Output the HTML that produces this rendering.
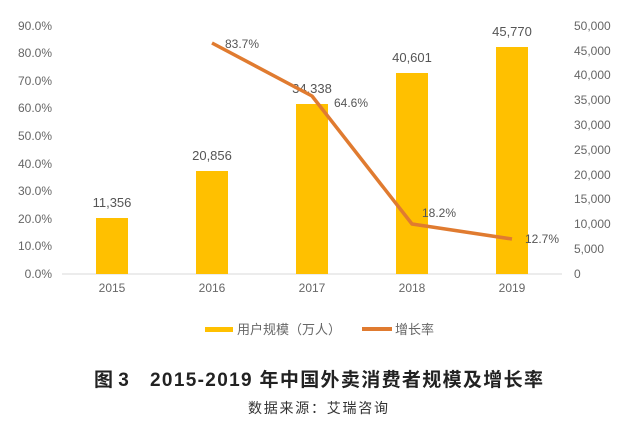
<!DOCTYPE html>
<html><head><meta charset="utf-8"><style>
body{margin:0;background:#fff;width:618px;height:423px;overflow:hidden}
svg text{font-family:"Liberation Sans","Noto Sans CJK SC",sans-serif}
</style></head><body>
<svg width="618" height="423" xmlns="http://www.w3.org/2000/svg">
<g font-size="12" fill="#666" text-anchor="end">
<text x="52" y="278">0.0%</text><text x="52" y="250">10.0%</text><text x="52" y="223">20.0%</text><text x="52" y="195">30.0%</text><text x="52" y="168">40.0%</text><text x="52" y="140">50.0%</text><text x="52" y="112">60.0%</text><text x="52" y="85">70.0%</text><text x="52" y="57">80.0%</text><text x="52" y="30">90.0%</text>
</g>
<g font-size="12" fill="#666" text-anchor="start">
<text x="574" y="278">0</text><text x="574" y="253">5,000</text><text x="574" y="228">10,000</text><text x="574" y="203">15,000</text><text x="574" y="179">20,000</text><text x="574" y="154">25,000</text><text x="574" y="129">30,000</text><text x="574" y="104">35,000</text><text x="574" y="79">40,000</text><text x="574" y="55">45,000</text><text x="574" y="30">50,000</text>
</g>
<line x1="62" y1="274" x2="562" y2="274" stroke="#d9d9d9"/>
<g fill="#ffc000">
<rect x="96" y="218" width="32" height="56"/>
<rect x="196" y="171" width="32" height="103"/>
<rect x="296" y="104" width="32" height="170"/>
<rect x="396" y="73" width="32" height="201"/>
<rect x="496" y="47" width="32" height="227"/>
</g>
<g font-size="13" fill="#555" text-anchor="middle">
<text x="112" y="207">11,356</text><text x="212" y="160">20,856</text><text x="312" y="93">34,338</text><text x="412" y="62">40,601</text><text x="512" y="36">45,770</text>
</g>
<polyline points="212,43 312,96 412,224 512,239" fill="none" stroke="#e07b30" stroke-width="3.5" stroke-linejoin="round"/>
<g font-size="12" fill="#555">
<text x="225" y="48">83.7%</text><text x="334" y="107">64.6%</text><text x="422" y="217">18.2%</text><text x="525" y="243">12.7%</text>
</g>
<g font-size="12" fill="#666" text-anchor="middle">
<text x="112" y="292">2015</text><text x="212" y="292">2016</text><text x="312" y="292">2017</text><text x="412" y="292">2018</text><text x="512" y="292">2019</text>
</g>
<rect x="205" y="327" width="28" height="5" fill="#ffc000"/>
<text x="237" y="334" font-size="13" fill="#666">用户规模（万人）</text>
<rect x="362" y="327" width="30" height="4" fill="#e07b30"/>
<text x="395" y="334" font-size="13" fill="#666">增长率</text>
<text x="94" y="386" font-size="19" font-weight="bold" fill="#222">图 3</text>
<text x="150" y="386" font-size="19" font-weight="bold" fill="#222" textLength="393">2015-2019 年中国外卖消费者规模及增长率</text>
<text x="248" y="413" font-size="14" fill="#333" textLength="140">数据来源：艾瑞咨询</text>
</svg>
</body></html>
